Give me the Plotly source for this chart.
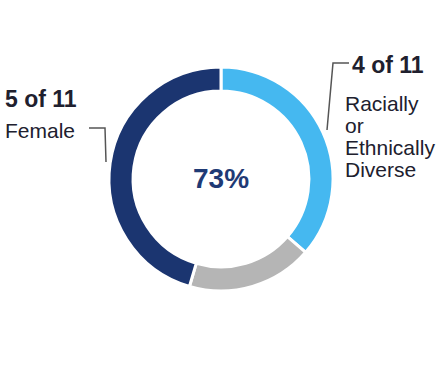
import plotly.graph_objects as go

W, H = 442, 384

categories = ["Racially or Ethnically Diverse", "Other", "Female"]
values = [4, 2, 5]
colors = ["#45B8F0", "#B5B5B5", "#1B3570"]
center_label = "73%"
left_title, left_sub = "5 of 11", "Female"
right_title = "4 of 11"
right_sub = ["Racially", "or", "Ethnically", "Diverse"]

FONT = "Arial, 'Liberation Sans', sans-serif"

def px(x):
    return x / W

def py(y):
    return 1 - y / H

fig = go.Figure(go.Pie(
    labels=categories, values=values, sort=False, direction="clockwise", rotation=0,
    hole=0.785, marker=dict(colors=colors, line=dict(color="white", width=3)),
    textinfo="none", hoverinfo="none", showlegend=False,
    domain=dict(x=[px(109), px(333)], y=[py(291), py(67)]),
))

ann = []
ann.append(dict(x=px(221), y=py(178), text=f"<b>{center_label}</b>", showarrow=False,
                font=dict(size=28, color="#1F3A75", family=FONT), xanchor="center", yanchor="middle"))
ann.append(dict(x=px(3), y=py(99), text=f"<b>{left_title}</b>", showarrow=False,
                font=dict(size=23, color="#20202E", family=FONT), xanchor="left", yanchor="middle"))
ann.append(dict(x=px(3), y=py(130), text=left_sub, showarrow=False,
                font=dict(size=21, color="#20202E", family=FONT), xanchor="left", yanchor="middle"))
ann.append(dict(x=px(350), y=py(65), text=f"<b>{right_title}</b>", showarrow=False,
                font=dict(size=23, color="#20202E", family=FONT), xanchor="left", yanchor="middle"))
for i, t in enumerate(right_sub):
    ann.append(dict(x=px(343), y=py(103 + 22.3 * i), text=t, showarrow=False,
                    font=dict(size=21, color="#20202E", family=FONT), xanchor="left", yanchor="middle"))

line = dict(color="#555555", width=1.5)
shapes = [
    dict(type="path", xref="paper", yref="paper",
         path=f"M {px(89)} {py(128)} L {px(105)} {py(128)} L {px(106)} {py(162)}", line=line),
    dict(type="path", xref="paper", yref="paper",
         path=f"M {px(349)} {py(63)} L {px(333)} {py(63)} L {px(327)} {py(130)}", line=line),
]

fig.update_layout(width=W, height=H, margin=dict(l=0, r=0, t=0, b=0),
                  paper_bgcolor="white", plot_bgcolor="white",
                  annotations=ann, shapes=shapes)
fig.write_html("out.html", config={"displayModeBar": False},
               post_script="document.body.style.margin='0';")
